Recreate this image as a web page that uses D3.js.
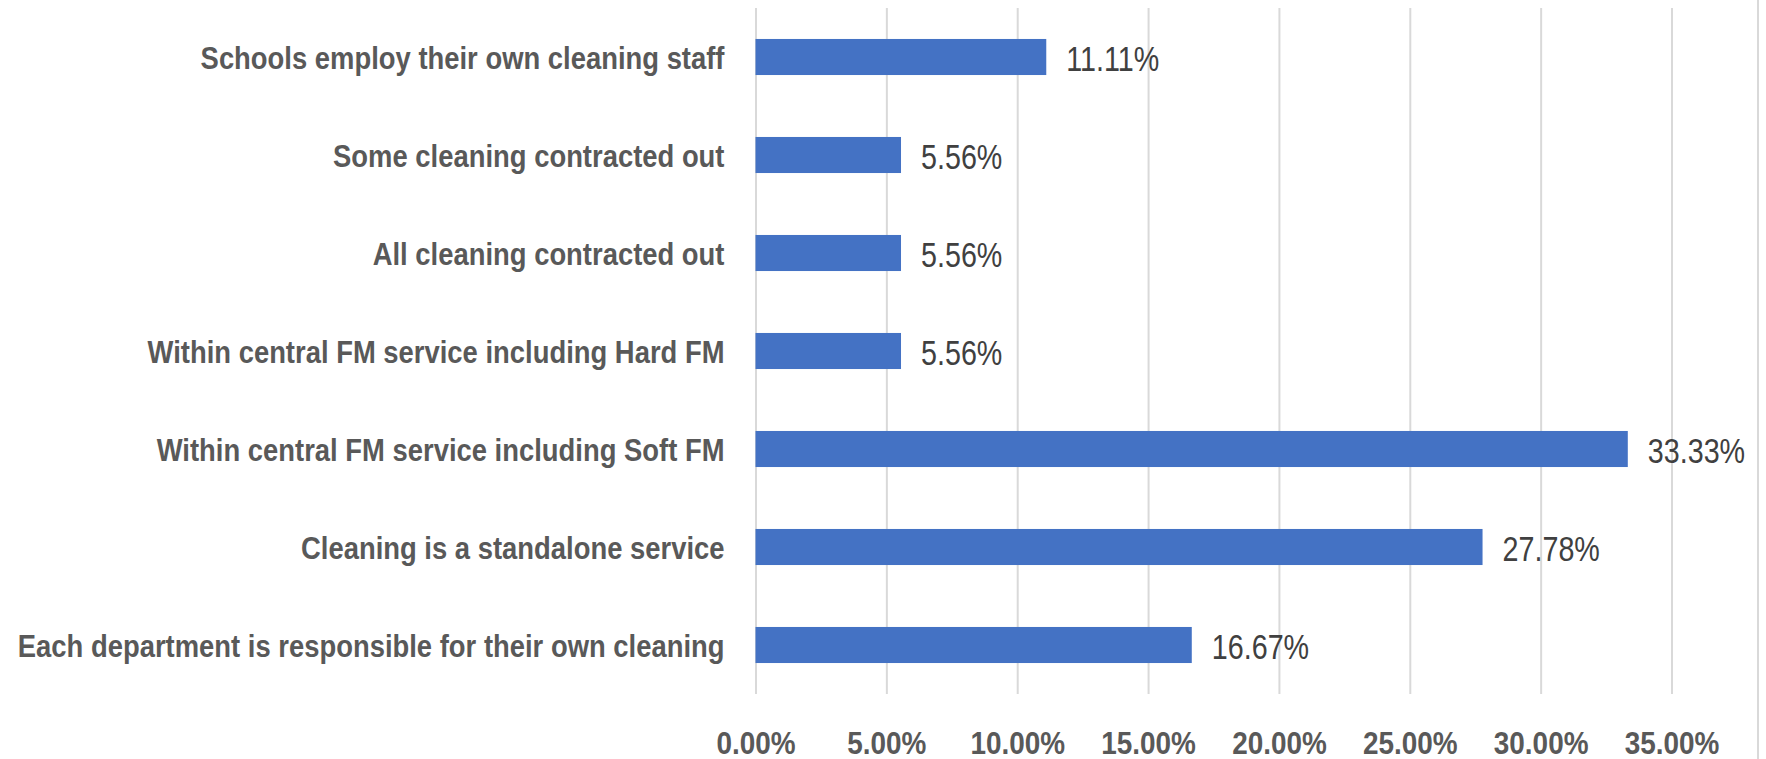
<!DOCTYPE html>
<html>
<head>
<meta charset="utf-8">
<script src="https://cdn.jsdelivr.net/npm/d3@7"></script>
<style>
  html, body { margin: 0; padding: 0; background: #ffffff; }
  svg { display: block; }
</style>
</head>
<body>
<svg id="chart" width="1766" height="759"></svg>
<script>
const categories = [
  "Schools employ their own cleaning staff",
  "Some cleaning contracted out",
  "All cleaning contracted out",
  "Within central FM service including Hard FM",
  "Within central FM service including Soft FM",
  "Cleaning is a standalone service",
  "Each department is responsible for their own cleaning"
];
const values = [0.1111, 0.0556, 0.0556, 0.0556, 0.3333, 0.2778, 0.1667];
const tickValues = [0, 0.05, 0.10, 0.15, 0.20, 0.25, 0.30, 0.35];

const svg = d3.select("#chart");
const plotTop = 8, plotBottom = 694, plotLeft = 755.5, plotRight = 1671.5;

const x = d3.scaleLinear().domain([0, 0.35]).range([plotLeft, plotRight]);
const y = d3.scaleBand().domain(categories).range([plotTop, plotBottom])
  .paddingInner(0.632).paddingOuter(0.316);

// right frame line
svg.append("line")
  .attr("x1", 1758).attr("x2", 1758).attr("y1", 0).attr("y2", 759)
  .attr("stroke", "#d9d9d9").attr("stroke-width", 2);

// x axis with gridlines
const xAxis = svg.append("g")
  .attr("transform", `translate(0,${plotBottom})`)
  .call(d3.axisBottom(x).tickValues(tickValues).tickFormat(d3.format(".2%"))
    .tickSize(-(plotBottom - plotTop)).tickPadding(0));
xAxis.select(".domain").remove();
xAxis.selectAll(".tick line").attr("stroke", "#d9d9d9").attr("stroke-width", 2);
xAxis.selectAll(".tick text")
  .attr("y", null).attr("dy", null)
  .attr("transform", "translate(0,60) scale(0.9,1)")
  .attr("text-anchor", "middle")
  .attr("fill", "#595959")
  .style("font-family", "'Liberation Sans', Arial, sans-serif")
  .style("font-weight", "bold")
  .style("font-size", "31px");

// bars
svg.append("g").selectAll("rect")
  .data(values)
  .join("rect")
  .attr("x", x(0))
  .attr("y", (d, i) => y(categories[i]))
  .attr("width", d => x(d) - x(0))
  .attr("height", y.bandwidth())
  .attr("fill", "#4472C4");

// category axis
const yAxis = svg.append("g")
  .attr("transform", `translate(${plotLeft},0)`)
  .call(d3.axisLeft(y).tickSize(0).tickPadding(0));
yAxis.select(".domain").remove();
yAxis.selectAll(".tick text")
  .attr("x", null).attr("dy", null)
  .attr("transform", "translate(-31,11.5) scale(0.865,1)")
  .attr("text-anchor", "end")
  .attr("fill", "#595959")
  .style("font-family", "'Liberation Sans', Arial, sans-serif")
  .style("font-weight", "bold")
  .style("font-size", "31.7px");

// value labels
const fmt = d3.format(".2%");
svg.append("g").selectAll("text")
  .data(values)
  .join("text")
  .attr("transform", (d, i) => `translate(${x(d) + 20},${y(categories[i]) + y.bandwidth() / 2 + 13.5}) scale(0.82,1)`)
  .attr("fill", "#404040")
  .style("font-family", "'Liberation Sans', Arial, sans-serif")
  .style("font-size", "35px")
  .text(d => fmt(d));
</script>
</body>
</html>
